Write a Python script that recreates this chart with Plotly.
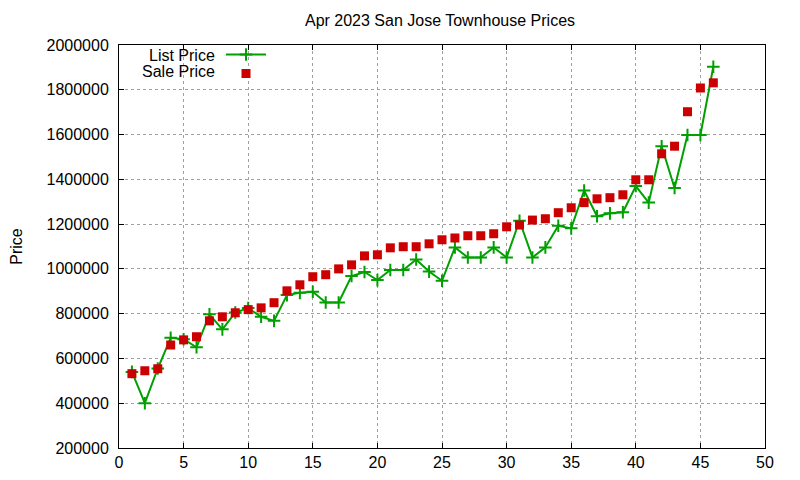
import plotly.graph_objects as go

# listing index, 1..46
idx = list(range(1, 47))

list_price = [
    540000, 400000, 555000, 692000, 686000, 650000, 797000, 730000, 805000, 825000,
    786000, 768000, 883000, 893000, 898000, 850000, 850000, 968000, 986000, 950000,
    995000, 995000, 1042000, 988000, 947000, 1096000, 1051000, 1051000, 1096000, 1051000,
    1215000, 1051000, 1096000, 1193000, 1181000, 1350000, 1235000, 1248000, 1253000, 1370000,
    1296000, 1548000, 1361000, 1598000, 1598000, 1903000,
]

sale_price = [
    532000, 545000, 554000, 660000, 683000, 697000, 768000, 786000, 804000, 818000,
    826000, 849000, 902000, 929000, 965000, 974000, 1000000, 1018000, 1058000, 1063000,
    1094000, 1099000, 1099000, 1112000, 1130000, 1138000, 1148000, 1148000, 1157000, 1188000,
    1196000, 1218000, 1224000, 1251000, 1273000, 1296000, 1313000, 1318000, 1331000, 1398000,
    1398000, 1514000, 1548000, 1702000, 1808000, 1831000,
]

FONT = "Liberation Sans, Arial, sans-serif"
GREEN = "#00a000"
RED = "#cc0000"

fig = go.Figure()
fig.add_trace(go.Scatter(
    x=idx, y=list_price, name="", mode="lines+markers",
    line=dict(color=GREEN, width=2),
    marker=dict(symbol="cross-thin", size=9, line=dict(color=GREEN, width=2)),
))
fig.add_trace(go.Scatter(
    x=idx, y=sale_price, name="", mode="markers",
    marker=dict(symbol="square", size=9, color=RED),
))

axis_common = dict(
    showline=True, linecolor="black", linewidth=1, mirror="allticks",
    ticks="inside", ticklen=5, tickcolor="black",
    showgrid=True, gridcolor="#a0a0a0", gridwidth=1, griddash="3px,3px",
    zeroline=False, tickfont=dict(size=16, color="black"),
)

fig.update_xaxes(range=[0, 50], dtick=5, tick0=0, **axis_common)
fig.update_yaxes(range=[200000, 2000000], dtick=200000, tick0=0, tickformat="d",
                 ticklabelstandoff=6,
                 title=dict(text="Price", font=dict(size=16, color="black"), standoff=27),
                 **axis_common)

# page has an 8px body margin, so the figure is 792x472 and sits at (8, 8)
fig.update_layout(
    width=792, height=472,
    margin=dict(l=111, r=35, t=37, b=32, autoexpand=False),
    paper_bgcolor="white", plot_bgcolor="white",
    font=dict(family=FONT, size=16, color="black"),
    title=dict(text="Apr 2023 San Jose Townhouse Prices", x=432 / 792, xanchor="center",
               y=1 - 12 / 472, yanchor="middle", font=dict(size=16, color="black")),
    showlegend=True,
    legend=dict(x=(221 - 119) / 646, xanchor="left", y=1.0 + 5 / 403, yanchor="top",
                bgcolor="rgba(0,0,0,0)", tracegroupgap=0, itemwidth=40,
                font=dict(size=8)),
)

# key labels, right aligned before the samples (gnuplot style)
for i, label in enumerate(["List Price", "Sale Price"]):
    fig.add_annotation(
        text=label, xref="paper", yref="paper",
        x=(217 - 119) / 646, y=1 - (10 + 17 * i) / 403,
        xanchor="right", yanchor="middle", showarrow=False,
        font=dict(size=16, color="black"),
    )

fig.write_html("out.html")
